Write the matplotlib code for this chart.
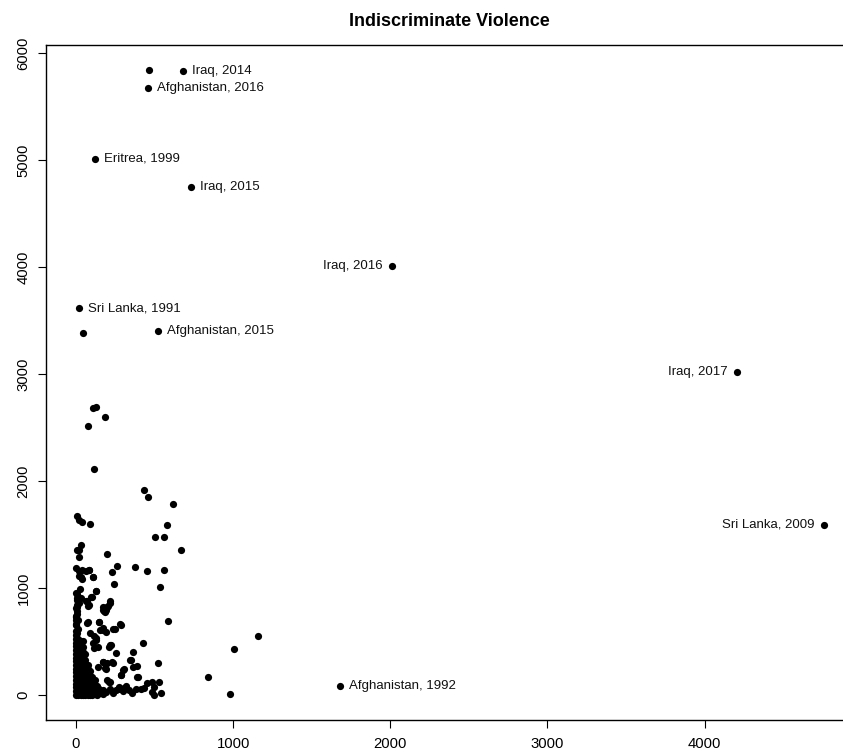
import matplotlib
matplotlib.use("Agg")
import matplotlib.pyplot as plt

plt.rcParams['font.family'] = ['Liberation Sans', 'DejaVu Sans']

# labelled outliers
label_names = ['Iraq, 2014', 'Afghanistan, 2016', 'Eritrea, 1999', 'Iraq, 2015',
               'Iraq, 2016', 'Sri Lanka, 1991', 'Afghanistan, 2015', 'Iraq, 2017',
               'Sri Lanka, 2009', 'Afghanistan, 1992']
label_x = [680, 457, 123, 734, 2008, 19, 522, 4206, 4758, 1679]
label_y = [5830, 5674, 5009, 4750, 4010, 3614, 3402, 3018, 1592, 84]
label_side = ['right', 'right', 'right', 'right', 'left', 'right', 'right', 'left', 'left', 'right']

# scattered points (no label)
scatter_x = [465, 43, 127, 110, 187, 74, 117, 433, 459, 616, 577, 503, 560, 671,
             378, 450, 560, 537, 586, 1159, 1008, 841, 983, 522, 429, 361, 348, 386,
             395, 308, 290, 248, 280, 259, 233, 242, 195, 220, 195, 174, 187, 131,
             99, 110, 85, 89, 42, 10, 19, 32, 17, 6, 21, 0, 19, 32, 68, 85, 10, 14,
             6, 8, 0, 74, 93, 148, 153, 189, 170, 127, 110, 142, 208, 220, 255, 201,
             233, 170, 140, 189, 195, 210, 180, 70, 149, 174, 238, 287, 117, 128,
             223, 117, 344, 170, 234, 361, 185, 302, 287, 389, 217, 265, 285, 308,
             433, 454, 486, 529, 497, 486, 497, 540, 412, 36, 64, 85, 106, 21, 36,
             0, 11, 6, 6, 32, 64, 75, 100, 127, 170, 191, 218, 202,
             5, 12, 4, 15, 8, 3, 18, 10, 25]
scatter_y = [5843, 3383, 2694, 2681, 2597, 2516, 2107, 1919, 1847, 1788, 1589, 1473,
             1473, 1358, 1192, 1158, 1167, 1005, 690, 549, 431, 172, 9, 303, 490,
             406, 328, 275, 172, 240, 187, 621, 662, 1201, 1145, 1039, 1320, 864,
             818, 796, 773, 971, 920, 1098, 1170, 1601, 1613, 1669, 1638, 1398, 1358,
             1352, 1290, 1183, 1155, 1102, 877, 843, 946, 889, 826, 780, 733, 680,
             577, 680, 609, 587, 627, 531, 484, 452, 452, 465, 396, 303, 312, 312,
             259, 240, 140, 125, 780, 671, 680, 609, 615, 655, 552, 515, 468, 437,
             328, 312, 297, 265, 250, 234, 187, 171, 125, 60, 53, 65, 63, 110, 125,
             125, 78, 31, 0, 16, 53, 1170, 1154, 1170, 1102, 1108, 1083, 952, 920,
             889, 843, 905, 874, 833, 920, 967, 820, 796, 874, 827,
             580, 620, 660, 700, 760, 810, 860, 910, 990]

# dense cluster near the origin
cluster_x = [0, 0, 0, 0, 0, 0, 0, 0, 0, 0, 0, 0, 0, 0, 0, 0, 0, 0, 0, 0, 0,
             15, 15, 15, 15, 15, 15, 15, 15, 15, 15, 15, 15, 15, 15,
             30, 30, 30, 30, 30, 30, 30, 30, 30, 30, 30, 30, 30, 30, 30,
             45, 45, 45, 45, 45, 45, 45, 45, 45, 45, 45, 45, 45,
             60, 60, 60, 60, 60, 60, 60, 60, 60, 60, 60,
             75, 75, 75, 75, 75, 75, 75, 75,
             90, 90, 90, 90, 90, 90, 90,
             105, 105, 105, 105, 105,
             120, 120, 120, 120,
             135, 135, 135,
             150, 150, 170, 170,
             190, 215, 235, 255, 275, 300, 320, 340, 360, 380]
cluster_y = [0, 35, 70, 105, 140, 175, 210, 245, 280, 315, 350, 385, 420, 455, 490,
             525, 560, 600, 650, 700, 740,
             0, 40, 80, 120, 160, 200, 240, 280, 320, 360, 400, 440, 480, 520,
             0, 35, 70, 105, 140, 175, 210, 245, 280, 315, 350, 385, 420, 460, 500,
             0, 40, 80, 120, 160, 200, 240, 280, 320, 360, 400, 450, 500,
             0, 35, 70, 105, 140, 175, 210, 250, 290, 330, 380,
             0, 40, 80, 120, 160, 200, 240, 280,
             0, 30, 60, 100, 140, 180, 220,
             0, 40, 80, 120, 170,
             10, 50, 90, 140,
             0, 40, 80,
             20, 60, 10, 45,
             30, 60, 20, 45, 70, 35, 80, 50, 20, 60]

x_ticks = [0, 1000, 2000, 3000, 4000]
y_ticks = [0, 1000, 2000, 3000, 4000, 5000, 6000]

fig = plt.figure(figsize=(8.43, 7.53), dpi=100)
ax = fig.add_axes([46 / 843, 33 / 753, 808 / 843, 675 / 753])

for xs, ys in [(cluster_x, cluster_y), (scatter_x, scatter_y), (label_x, label_y)]:
    ax.plot(xs, ys, 'o', color='black', markersize=5.2, markeredgewidth=0)

for name, x, y, side in zip(label_names, label_x, label_y, label_side):
    if side == 'right':
        ax.annotate(name, (x, y), xytext=(6.5, 0), textcoords='offset points',
                    ha='left', va='center', fontsize=9.5, color='#111111')
    else:
        ax.annotate(name, (x, y), xytext=(-6.5, 0), textcoords='offset points',
                    ha='right', va='center', fontsize=9.5, color='#111111')

ax.set_xlim(-190, 4950)
ax.set_ylim(-234, 6074)
ax.set_xticks(x_ticks)
ax.set_yticks(y_ticks)
ax.tick_params(direction='out', length=6, width=0.8, labelsize=10.7, pad=6)
ax.tick_params(axis='y', labelrotation=90, pad=5)
for lab in ax.get_yticklabels():
    lab.set_va('center')
for sp in ax.spines.values():
    sp.set_linewidth(1.0)

fig.text(449 / 843, 1 - 21 / 753, 'Indiscriminate Violence', ha='center', va='center',
         fontsize=13, fontweight='bold')

fig.savefig('out.png', dpi=100)
